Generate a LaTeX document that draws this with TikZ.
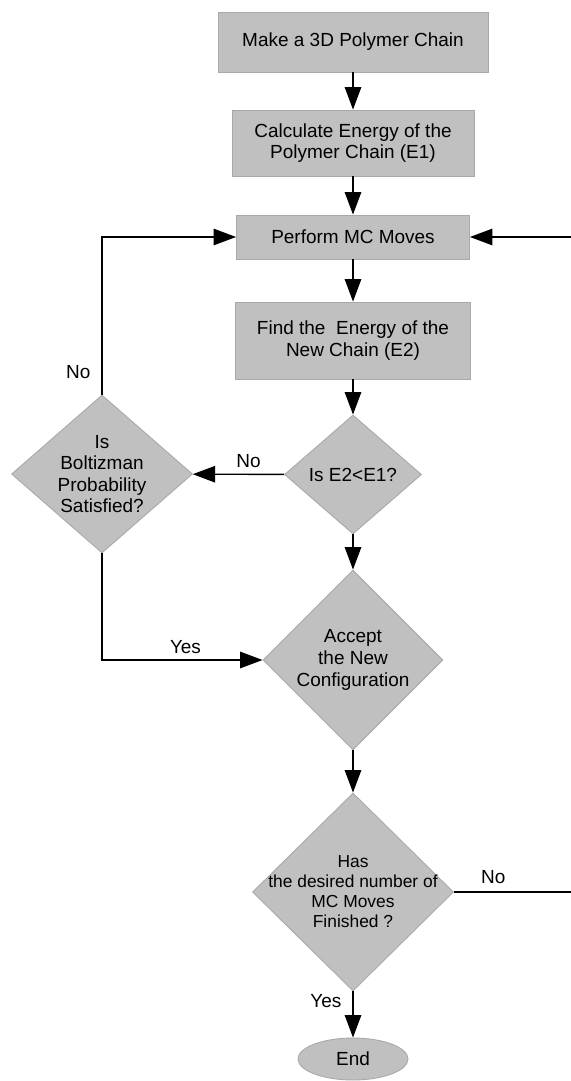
\documentclass[tikz,border=0pt]{standalone}
\usepackage{fontspec}
\setmainfont{Liberation Sans}
\usetikzlibrary{shapes.geometric,arrows.meta,positioning}
\definecolor{boxgray}{RGB}{192,192,192}
\definecolor{edgegray}{RGB}{172,168,164}

\begin{document}
\begin{tikzpicture}[every node/.style={font=\fontsize{10.8}{12.3}\selectfont},
	process/.style={rectangle,draw=edgegray,line width=0.5pt,fill=boxgray,align=center,inner sep=0pt},
	decision/.style={diamond,draw=edgegray,line width=0.5pt,fill=boxgray,align=center,inner sep=0pt},
	terminal/.style={ellipse,draw=edgegray,line width=0.5pt,fill=boxgray,inner sep=0pt},
	flow/.style={line width=0.8pt,-{Triangle[length=4.5mm,width=3.3mm]}}]

	\useasboundingbox (0,0) rectangle (11.4,-21.62);

	% main chain
	\node[process,minimum width=5.4cm,minimum height=1.2cm] (make) at (7.06,-0.84) {Make a 3D Polymer Chain};
	\node[process,minimum width=4.84cm,minimum height=1.32cm] (calc) at (7.06,-2.86) {Calculate Energy of the\\Polymer Chain (E1)};
	\node[process,minimum width=4.66cm,minimum height=0.88cm] (perform) at (7.06,-4.74) {Perform MC Moves};
	\node[process,minimum width=4.7cm,minimum height=1.54cm] (find) at (7.06,-6.81) {Find the~ Energy of the\\New Chain (E2)};

	\node[decision,minimum width=2.74cm,minimum height=2.38cm] (isless) at (7.06,-9.49) {Is E2<E1?};
	\node[decision,minimum width=3.62cm,minimum height=3.16cm,shape aspect=1.15] (boltz) at (2.04,-9.48) {Is\\Boltizman\\Probability\\Satisfied?};
	\node[decision,minimum width=3.6cm,minimum height=3.6cm] (accept) at (7.06,-13.2) {Accept\\the New\\Configuration};

	\node[decision,minimum width=4.02cm,minimum height=3.96cm] (finished) at (7.06,-17.84) {};
	\node[align=center,font=\fontsize{9.9}{11.4}\selectfont] (finishedtext) at (finished) {Has\\the desired number of\\MC Moves\\Finished ?};

	\node[terminal,minimum width=2.2cm,minimum height=0.84cm] (stop) at (7.06,-21.18) {End};

	\coordinate (loopcorner) at (11.46,-17.84);

	% connectors
	\draw[flow] (make) -- (calc);
	\draw[flow] (calc) -- (perform);
	\draw[flow] (perform) -- (find);
	\draw[flow] (find) -- (isless);
	\draw[flow] (isless) -- node[pos=0.39,above]{No} (boltz);
	\draw[flow] (isless) -- (accept);
	\draw[flow] (boltz) |- node[pos=0.07,left=0.1cm]{No} (perform);
	\draw[flow] (boltz) |- node[pos=0.76,above]{Yes} (accept);
	\draw[flow] (accept) -- (finished);
	\draw[flow] (finished) -- node[pos=0.2,left=0.1cm]{Yes} (stop);
	\draw[flow] (finished) -- node[pos=0.33,above=1pt]{No} (loopcorner) |- (perform);

\end{tikzpicture}
\end{document}
